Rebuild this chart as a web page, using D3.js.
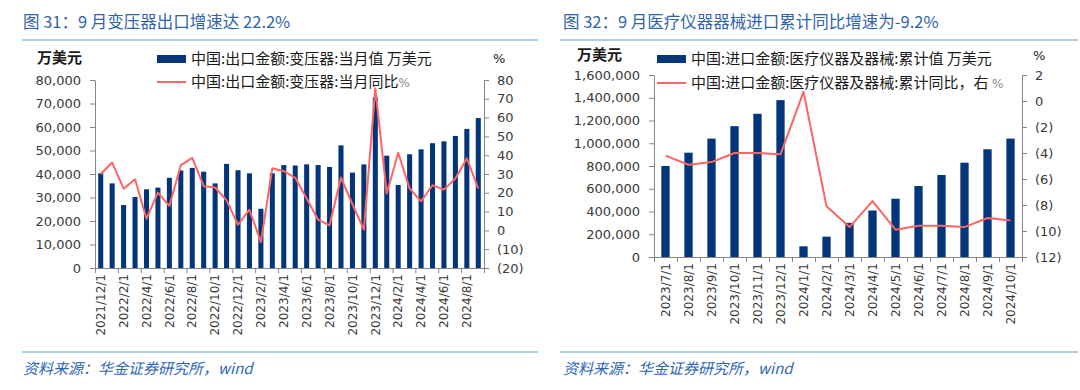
<!DOCTYPE html>
<html><head><meta charset="utf-8">
<script src="https://cdn.jsdelivr.net/npm/d3@7"></script>
<style>html,body{margin:0;padding:0;background:#fff;}svg{display:block;}</style>
</head><body>
<svg id="chart" width="1080" height="390"></svg>
<script>
// ---------- Data ----------
const leftCategories = ["2021/12/1","2022/1/1","2022/2/1","2022/3/1","2022/4/1","2022/5/1","2022/6/1","2022/7/1","2022/8/1","2022/9/1","2022/10/1","2022/11/1","2022/12/1","2023/1/1","2023/2/1","2023/3/1","2023/4/1","2023/5/1","2023/6/1","2023/7/1","2023/8/1","2023/9/1","2023/10/1","2023/11/1","2023/12/1","2024/1/1","2024/2/1","2024/3/1","2024/4/1","2024/5/1","2024/6/1","2024/7/1","2024/8/1","2024/9/1"];
const leftTickLabels = ["2021/12/1","2022/2/1","2022/4/1","2022/6/1","2022/8/1","2022/10/1","2022/12/1","2023/2/1","2023/4/1","2023/6/1","2023/8/1","2023/10/1","2023/12/1","2024/2/1","2024/4/1","2024/6/1","2024/8/1"];
const leftBarValues = [40300,36000,26800,30200,33500,34200,38400,41500,42600,41000,36000,44300,41600,40300,25200,40300,43800,43600,44100,43800,43000,52200,40600,44100,72600,47800,35300,48400,50500,53100,53900,56200,59200,63800];
const leftLineValues = [30,36.1,22.2,27.2,6.2,20.1,13,34.7,38.6,23.5,22.8,16,3,11,-6.2,33.1,31.5,28,17,5.7,2.7,28.1,13.9,0.4,75.6,19.6,41.3,22.2,15.5,24,21.7,27.6,38.3,22.2];
const leftLeftTicks = [0,10000,20000,30000,40000,50000,60000,70000,80000];
const leftRightTicks = [-20,-10,0,10,20,30,40,50,60,70,80];

const rightCategories = ["2023/7/1","2023/8/1","2023/9/1","2023/10/1","2023/11/1","2023/12/1","2024/1/1","2024/2/1","2024/3/1","2024/4/1","2024/5/1","2024/6/1","2024/7/1","2024/8/1","2024/9/1","2024/10/1"];
const rightTickLabels = rightCategories;
const rightBarValues = [800000,917000,1041000,1150000,1259000,1379000,94000,179000,300000,409000,512000,624000,721000,829000,947000,1041000];
const rightLineValues = [-4.2,-4.9,-4.7,-4.0,-4.0,-4.1,0.7,-8.1,-9.7,-7.7,-9.9,-9.6,-9.6,-9.7,-9.0,-9.2];
const rightLeftTicks = [0,200000,400000,600000,800000,1000000,1200000,1400000,1600000];
const rightRightTicks = [-12,-10,-8,-6,-4,-2,0,2];

const leftTitle = "图 31：9 月变压器出口增速达 22.2%";
const rightTitle = "图 32：9 月医疗仪器器械进口累计同比增速为-9.2%";
const leftLegend = ["中国:出口金额:变压器:当月值 万美元", "中国:出口金额:变压器:当月同比"];
const rightLegend = ["中国:进口金额:医疗仪器及器械:累计值 万美元", "中国:进口金额:医疗仪器及器械:累计同比，右 "];
const sourceText = "资料来源：华金证券研究所，wind";
const unitLeft = "万美元";
const unitRight = "%";

// ---------- Style ----------
const NUM_FONT = "'DejaVu Sans', Verdana, sans-serif";
const CJK_FONT = "'Noto Sans CJK SC', 'Noto Sans', sans-serif";
const BAR_COLOR = "#02357a";
const LINE_COLOR = "#ff6464";
const AXIS_COLOR = "#868686";
const TEXT_COLOR = "#3a3a3a";
const TITLE_COLOR = "#2f63ab";
const RULE_COLOR = "#8cbde3";

const svg = d3.select("#chart");

function fmtRight(v){ return v < 0 ? "(" + Math.abs(v) + ")" : String(v); }

function drawPanel(o){
  const g = svg.append("g");
  // title + rules
  g.append("text").attr("x", o.ox + 23).attr("y", 28)
    .attr("font-family", CJK_FONT).attr("font-size", 16.5).attr("fill", TITLE_COLOR)
    .text(o.title);
  g.append("line").attr("x1", o.ruleStart).attr("x2", o.ruleEnd).attr("y1", 40).attr("y2", 40)
    .attr("stroke", RULE_COLOR).attr("stroke-width", 1.5);
  g.append("line").attr("x1", o.ruleStart).attr("x2", o.ruleEnd).attr("y1", 352).attr("y2", 352)
    .attr("stroke", RULE_COLOR).attr("stroke-width", 1.5);
  g.append("text").attr("x", o.ox + 23).attr("y", 374)
    .attr("font-family", CJK_FONT).attr("font-size", 15).attr("font-style", "italic")
    .attr("fill", "#2e66b8").text(sourceText);

  const x = d3.scaleBand().domain(o.categories).range([o.x0, o.x1]).paddingInner(o.pad).paddingOuter(o.pad/2);
  const yL = d3.scaleLinear().domain(o.leftDomain).range([o.yBot, o.yTop]);
  const yR = d3.scaleLinear().domain(o.rightDomain).range([o.yBot, o.yTop]);

  // bars
  g.append("g").selectAll("rect").data(o.bars).join("rect")
    .attr("x", (d,i) => x(o.categories[i])).attr("width", x.bandwidth())
    .attr("y", d => yL(d)).attr("height", d => yL(0) - yL(d))
    .attr("fill", BAR_COLOR);

  // axes
  const styleAxis = sel => {
    sel.selectAll("path,line").attr("stroke", AXIS_COLOR).attr("stroke-width", 1);
    sel.selectAll("text").attr("fill", TEXT_COLOR).attr("font-family", NUM_FONT).attr("font-size", o.tickFont);
  };
  g.append("g").attr("transform", `translate(${o.x0},0)`)
    .call(d3.axisLeft(yL).tickValues(o.leftTicks).tickFormat(d3.format(",")).tickSize(5).tickSizeOuter(0).tickPadding(9))
    .call(styleAxis);
  g.append("g").attr("transform", `translate(${o.x1},0)`)
    .call(d3.axisRight(yR).tickValues(o.rightTicks).tickFormat(fmtRight).tickSize(5).tickSizeOuter(0).tickPadding(8))
    .call(styleAxis);
  // bottom boundary ticks
  const n = o.categories.length;
  const xb = d3.scaleLinear().domain([0, n]).range([o.x0, o.x1]);
  g.append("g").attr("transform", `translate(0,${o.yBot})`)
    .call(d3.axisBottom(xb).tickValues(d3.range(0, n + 1, o.tickEvery)).tickFormat("").tickSize(5).tickSizeOuter(0))
    .call(styleAxis);
  // bottom labels
  const xl = g.append("g").attr("transform", `translate(0,${o.yBot})`)
    .call(d3.axisBottom(x).tickValues(o.tickLabels).tickSize(0).tickPadding(0));
  xl.select(".domain").remove();
  xl.selectAll("text").attr("transform", "rotate(-90)").attr("text-anchor", "end")
    .attr("x", -6).attr("y", 0).attr("dy", "0.35em")
    .attr("fill", TEXT_COLOR).attr("font-family", NUM_FONT).attr("font-size", o.xFont);

  // line
  g.append("path").datum(o.line)
    .attr("d", d3.line().x((d,i) => x(o.categories[i]) + x.bandwidth()/2).y(d => yR(d)))
    .attr("fill", "none").attr("stroke", LINE_COLOR).attr("stroke-width", 2).attr("stroke-linejoin", "round");

  // units
  g.append("text").attr("x", o.unitLX).attr("y", o.unitY).attr("dy", "0.35em")
    .attr("font-family", CJK_FONT).attr("font-size", 15).attr("font-weight", 700).attr("fill", "#1a1a1a").text(unitLeft);
  g.append("text").attr("x", o.unitRX).attr("y", o.unitY).attr("dy", "0.35em")
    .attr("font-family", NUM_FONT).attr("font-size", 13).attr("fill", "#1a1a1a").text(unitRight);

  // legend
  g.append("rect").attr("x", o.legX).attr("y", o.legY1 - 4).attr("width", 29).attr("height", 8).attr("fill", BAR_COLOR);
  g.append("line").attr("x1", o.legX).attr("x2", o.legX + 29).attr("y1", o.legY2).attr("y2", o.legY2)
    .attr("stroke", LINE_COLOR).attr("stroke-width", 2);
  g.append("text").attr("x", o.legX + 34).attr("y", o.legY1).attr("dy", "0.35em")
    .attr("font-family", CJK_FONT).attr("font-size", 15).attr("fill", "#1a1a1a").text(o.legend[0]);
  const t2 = g.append("text").attr("x", o.legX + 34).attr("y", o.legY2).attr("dy", "0.35em")
    .attr("font-family", CJK_FONT).attr("font-size", 15).attr("fill", "#1a1a1a").text(o.legend[1]);
  t2.append("tspan").attr("font-family", NUM_FONT).attr("font-size", 12).attr("fill", "#888").text("%");
}

drawPanel({
  ox: 0, ruleStart: 22, ruleEnd: 538, title: leftTitle,
  categories: leftCategories, tickLabels: leftTickLabels, bars: leftBarValues, line: leftLineValues,
  x0: 95, x1: 484, yTop: 80, yBot: 268, pad: 0.56, tickEvery: 2,
  leftDomain: [0, 80000], leftTicks: leftLeftTicks, rightDomain: [-20, 80], rightTicks: leftRightTicks,
  tickFont: 13, xFont: 12,
  unitLX: 37, unitRX: 493, unitY: 58,
  legX: 157, legY1: 59, legY2: 82, legend: leftLegend
});
drawPanel({
  ox: 540, ruleStart: 560, ruleEnd: 1078, title: rightTitle,
  categories: rightCategories, tickLabels: rightTickLabels, bars: rightBarValues, line: rightLineValues,
  x0: 654, x1: 1022, yTop: 75, yBot: 257, pad: 0.64, tickEvery: 1,
  leftDomain: [0, 1600000], leftTicks: rightLeftTicks, rightDomain: [-12, 2], rightTicks: rightRightTicks,
  tickFont: 13, xFont: 12,
  unitLX: 577, unitRX: 1033, unitY: 55,
  legX: 657, legY1: 59, legY2: 83, legend: rightLegend
});
</script>
</body></html>
